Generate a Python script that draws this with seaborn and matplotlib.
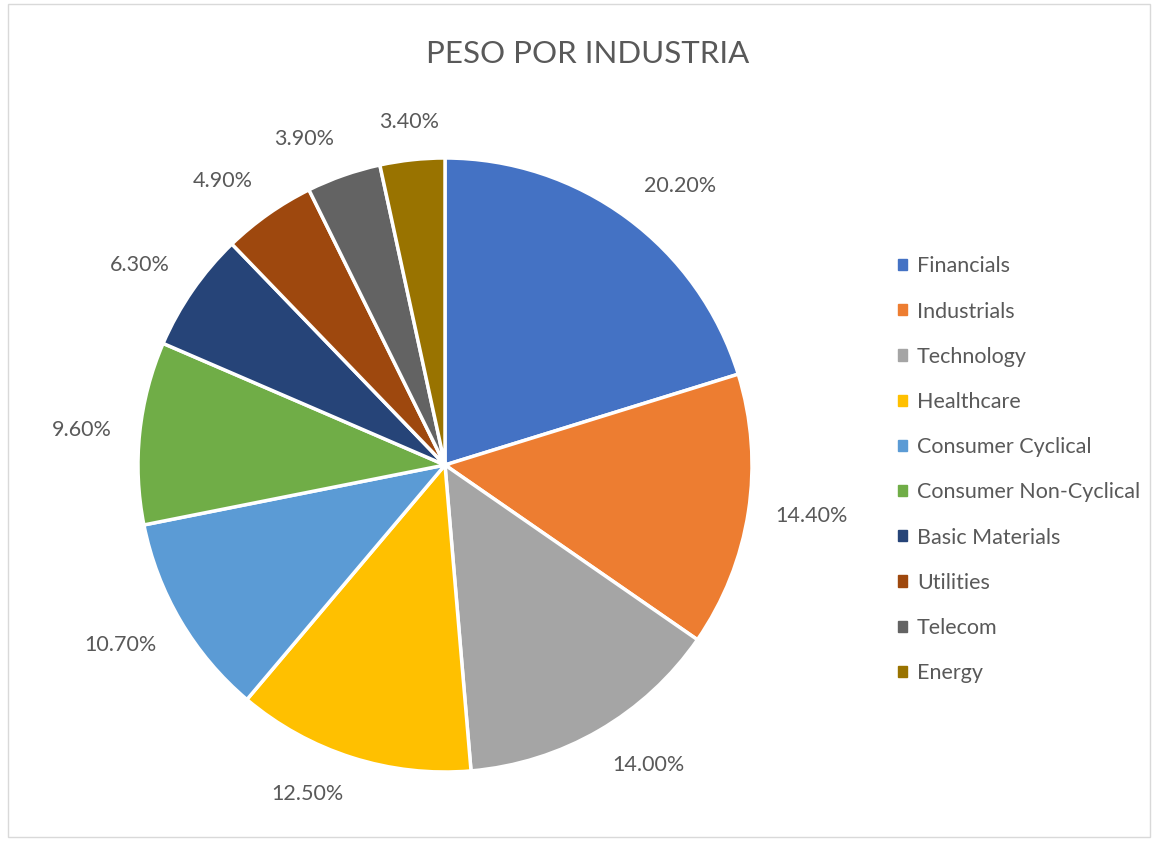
import matplotlib
matplotlib.use("Agg")
import numpy as np
import matplotlib.pyplot as plt
from matplotlib.patches import Patch, Rectangle
import seaborn as sns

# chart data
industries = ["Financials", "Industrials", "Technology", "Healthcare",
              "Consumer Cyclical", "Consumer Non-Cyclical", "Basic Materials",
              "Utilities", "Telecom", "Energy"]
weights = [20.2, 14.4, 14.0, 12.5, 10.7, 9.6, 6.3, 4.9, 3.9, 3.4]
colors = ["#4472C4", "#ED7D31", "#A5A5A5", "#FFC000", "#5B9BD5",
          "#70AD47", "#264478", "#9E480E", "#636363", "#997300"]
title = "PESO POR INDUSTRIA"

sns.set_theme(style="white")
plt.rcParams["font.family"] = ["Lato", "DejaVu Sans"]
text_color = "#595959"

W, H = 1158, 843
fig = plt.figure(figsize=(W / 100, H / 100), dpi=100)
palette = sns.color_palette(colors)

# square axes so the pie sits where it does in the reference
cx, cy, r = 445, 465, 307
ax = fig.add_axes([(cx - r) / W, 1 - (cy + r) / H, 2 * r / W, 2 * r / H])
wedges, _ = ax.pie(
    weights,
    colors=palette,
    startangle=90,
    counterclock=False,
    wedgeprops=dict(edgecolor="white", linewidth=2.5),
    normalize=True,
)

# Excel-style "outside end" data labels
for w, val in zip(wedges, weights):
    ang = np.deg2rad((w.theta1 + w.theta2) / 2)
    c, s = np.cos(ang), np.sin(ang)
    ha = "left" if c > 0.3 else ("right" if c < -0.3 else "center")
    va = "bottom" if s > 0.3 else ("top" if s < -0.3 else "center")
    ax.text(1.09 * c, 1.09 * s, "%.2f%%" % val, ha=ha, va=va,
            fontsize=15.5, color=text_color)

ax.set_aspect("equal")
ax.set_xlim(-1, 1)
ax.set_ylim(-1, 1)
ax.axis("off")

fig.text(588 / W, 1 - 54 / H, title, ha="center", va="center",
         fontsize=22.5, color=text_color)

handles = [Patch(facecolor=c, edgecolor=c) for c in palette]
fig.legend(handles, industries, loc="upper left",
           bbox_to_anchor=(879 / W, 1 - 237 / H),
           frameon=False, fontsize=15.5, labelcolor=text_color,
           handlelength=0.42, handleheight=0.42, handletextpad=0.45,
           labelspacing=1.17)

# light chart-area border
fig.patches.append(Rectangle((8 / W, 6 / H), 1 - 16 / W, 1 - 10 / H,
                             transform=fig.transFigure, fill=False,
                             edgecolor="#d9d9d9", linewidth=1))

fig.savefig("out.png", dpi=100, facecolor="white")
